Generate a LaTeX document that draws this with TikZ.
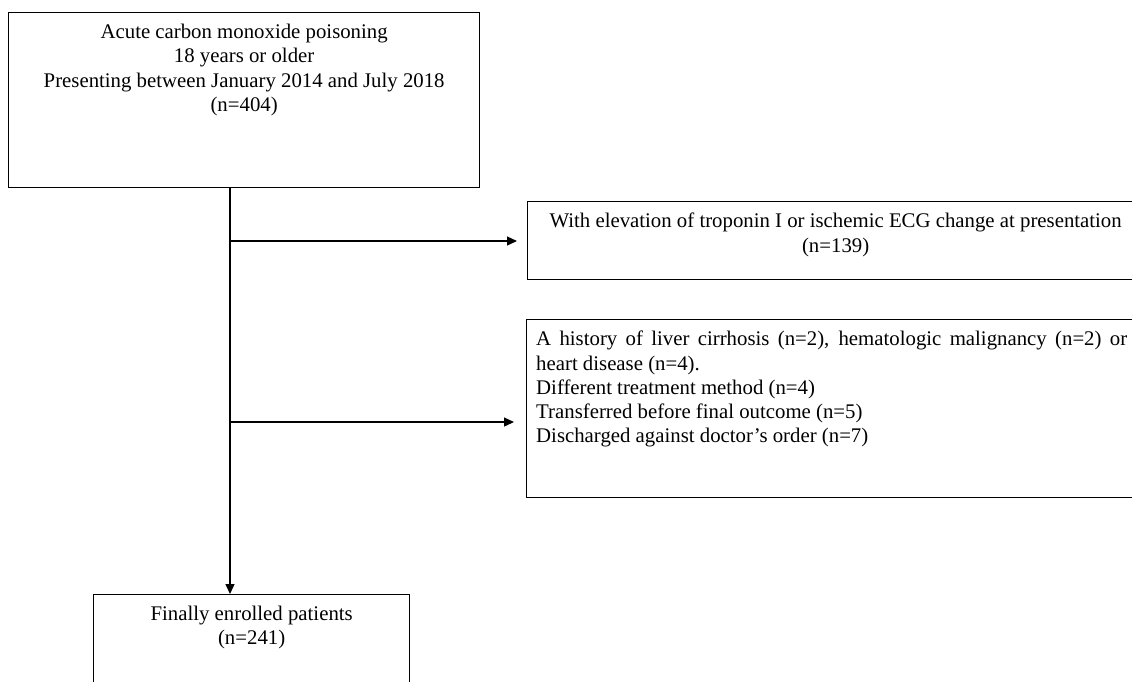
\documentclass[tikz,border=0pt]{standalone}
\usepackage{fontspec}
\setmainfont{Liberation Serif}
\usetikzlibrary{arrows.meta}

\begin{document}
\begin{tikzpicture}[x=1pt, y=-1pt,
    box/.style={draw, line width=1.3pt, rectangle, anchor=north west, inner sep=0pt},
    txt/.style={anchor=north, inner sep=0pt, align=center, font=\fontsize{20.8}{24.2}\selectfont},
    flow/.style={-{Triangle[length=10pt,width=9pt]}, line width=1.3pt}]
    \useasboundingbox (0,0) rectangle (1132,681);
    \clip (0,0) rectangle (1132,681);
    % Boxes
    \node[box, minimum width=471pt, minimum height=175pt] (screened) at (8,12) {};
    \node[box, minimum width=616pt, minimum height=78pt] (cardiac) at (527,201) {};
    \node[box, minimum width=620pt, minimum height=178pt] (excluded) at (526,319) {};
    \node[box, minimum width=316pt, minimum height=120pt] (enrolled) at (93,594) {};
    % Texts
    \node[txt] (screened-text) at ([yshift=-12pt]screened.north)
        {Acute carbon monoxide poisoning\\18 years or older\\Presenting between January 2014 and July 2018\\(n=404)};
    \node[txt] (cardiac-text) at ([yshift=-12pt]cardiac.north)
        {With elevation of troponin I or ischemic ECG change at presentation\\(n=139)};
    \node[txt, anchor=north west, align=justify, text width=591pt] (excluded-text)
        at ([xshift=10pt,yshift=-12pt]excluded.north west)
        {\hyphenpenalty=10000 A history of liver cirrhosis (n=2), hematologic malignancy (n=2) or heart disease (n=4).\par
         Different treatment method (n=4)\par
         Transferred before final outcome (n=5)\par
         Discharged against doctor's order (n=7)};
    \node[txt] (enrolled-text) at ([yshift=-12pt]enrolled.north)
        {Finally enrolled patients\\(n=241)};
    % Arrows
    \coordinate (spine) at (230,0);
    \coordinate (branch1) at (230,241);
    \coordinate (branch2) at (230,422);
    \draw[flow] (spine |- screened.south) -- (spine |- enrolled.north);
    \draw[flow, shorten >=10pt] (branch1) -- (branch1 -| cardiac.west);
    \draw[flow, shorten >=12pt] (branch2) -- (branch2 -| excluded.west);
\end{tikzpicture}
\end{document}
